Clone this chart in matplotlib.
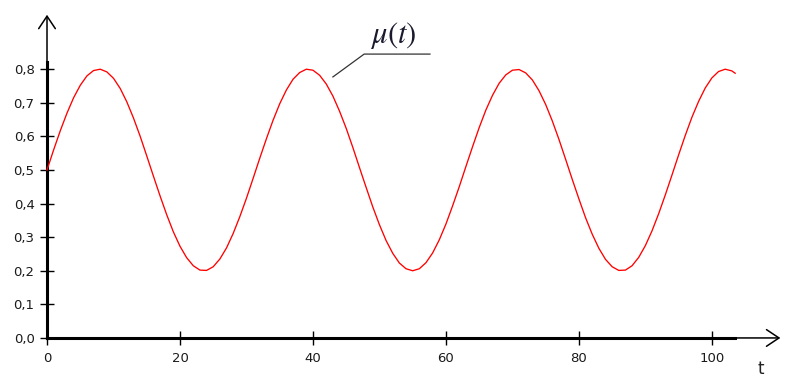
import matplotlib
matplotlib.use("Agg")
import matplotlib.pyplot as plt
import numpy as np

# ---- data ----
t_values = list(range(0, 104)) + [103.5]
mu_values = [
    0.500, 0.560, 0.617, 0.669, 0.715, 0.752, 0.780, 0.796, 0.800, 0.792,
    0.773, 0.743, 0.703, 0.655, 0.601, 0.542, 0.482, 0.423, 0.367, 0.316,
    0.273, 0.239, 0.215, 0.202, 0.201, 0.212, 0.235, 0.268, 0.311, 0.361,
    0.416, 0.475, 0.535, 0.593, 0.648, 0.697, 0.738, 0.770, 0.790, 0.800,
    0.797, 0.782, 0.756, 0.720, 0.675, 0.624, 0.567, 0.507, 0.448, 0.390,
    0.337, 0.290, 0.252, 0.223, 0.206, 0.200, 0.206, 0.224, 0.253, 0.292,
    0.339, 0.393, 0.450, 0.510, 0.569, 0.626, 0.678, 0.722, 0.758, 0.783,
    0.797, 0.799, 0.789, 0.768, 0.736, 0.695, 0.646, 0.591, 0.532, 0.472,
    0.414, 0.358, 0.309, 0.267, 0.234, 0.212, 0.201, 0.202, 0.215, 0.240,
    0.275, 0.319, 0.370, 0.426, 0.485, 0.545, 0.603, 0.657, 0.704, 0.744,
    0.774, 0.793, 0.800, 0.795, 0.788,
]
x_ticks = [0, 20, 40, 60, 80, 100]
x_tick_labels = ["0", "20", "40", "60", "80", "100"]
y_ticks = [0.0, 0.1, 0.2, 0.3, 0.4, 0.5, 0.6, 0.7, 0.8]
y_tick_labels = ["0,0", "0,1", "0,2", "0,3", "0,4", "0,5", "0,6", "0,7", "0,8"]
curve_label = r"$\mu(t)$"
x_axis_label = "t"

plt.rcParams["mathtext.fontset"] = "stix"

fig = plt.figure(figsize=(7.89, 3.88), dpi=100)
ax = fig.add_axes([0, 0, 1, 1])
ax.set_xlim(-7.07, 111.6)
ax.set_ylim(-0.149, 1.006)
ax.patch.set_visible(False)

ax.plot(t_values, mu_values, color="#ff0000", lw=0.95, zorder=3)

for side in ("top", "right"):
    ax.spines[side].set_visible(False)
ax.spines["left"].set_position(("data", 0))
ax.spines["bottom"].set_position(("data", 0))
ax.spines["left"].set_bounds(0, 0.82)
ax.spines["bottom"].set_bounds(0, 103.5)
ax.spines["left"].set_linewidth(2.2)
ax.spines["bottom"].set_linewidth(2.2)

ax.set_xticks(x_ticks)
ax.set_xticklabels(x_tick_labels)
ax.set_yticks(y_ticks)
ax.set_yticklabels(y_tick_labels)
ax.tick_params(axis="both", direction="inout", length=10, width=1.0,
               labelsize=9.5, labelcolor="#1a1a1a", colors="black")
ax.tick_params(axis="x", pad=5, labelcolor="#1a1a1a")
ax.tick_params(axis="y", pad=4, labelcolor="#1a1a1a")

# axis arrows
arrow_style = "->,head_length=0.9,head_width=0.6"
ax.annotate("", xy=(110.3, 0), xytext=(103.0, 0),
            arrowprops=dict(arrowstyle=arrow_style, lw=1.1, color="black",
                            mutation_scale=10, shrinkA=0, shrinkB=0))
ax.annotate("", xy=(0, 0.962), xytext=(0, 0.80),
            arrowprops=dict(arrowstyle=arrow_style, lw=1.1, color="black",
                            mutation_scale=10, shrinkA=0, shrinkB=0))

# leader line and label
ax.plot([43.0, 47.7, 57.6], [0.777, 0.845, 0.845], color="#333333", lw=0.9)
ax.text(52.0, 0.855, curve_label, fontsize=22, ha="center", va="bottom",
        color="#1a1a2e")

ax.text(107.4, -0.092, x_axis_label, fontsize=12, ha="center", va="center",
        color="#222222")

fig.savefig("out.png", dpi=100)
